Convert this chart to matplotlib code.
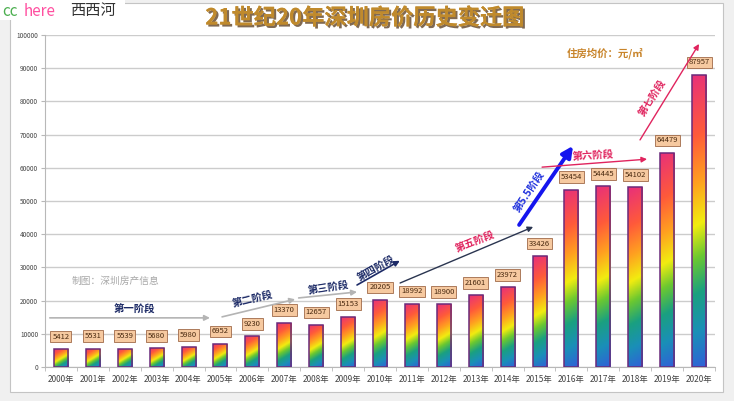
import numpy as np
import matplotlib
matplotlib.use("Agg")
import matplotlib.pyplot as plt
from matplotlib.patches import Rectangle
from matplotlib.colors import LinearSegmentedColormap
import matplotlib.patheffects as pe

plt.rcParams['font.family'] = ['Noto Sans CJK SC', 'DejaVu Sans']

years = [f"{y}年" for y in range(2000, 2021)]
prices = [5412, 5531, 5539, 5680, 5980, 6952, 9230, 13370, 12657, 15153, 20205,
          18992, 18900, 21601, 23972, 33426, 53454, 54445, 54102, 64479, 87957]
title = "21世纪20年深圳房价历史变迁图"
unit_text = "住房均价：元/㎡"
source_text = "制图：深圳房产信息"

# stage annotations: label, text pos, rotation, arrow start, arrow end, text color, arrow color, lw
stages = [
    ("第一阶段", (2.3, 17300), 0, (-0.35, 14800), (4.67, 14800), "#1c2a66", "#b4b4b4", 1.2, 8),
    ("第二阶段", (6.0, 20300), 14, (5.05, 15100), (7.34, 20400), "#1c2a66", "#b4b4b4", 1.2, 8),
    ("第三阶段", (8.37, 23800), 9, (7.45, 20800), (9.28, 22600), "#1c2a66", "#b4b4b4", 1.2, 8),
    ("第四阶段", (9.9, 29500), 30, (9.28, 24700), (10.62, 32000), "#1c2a66", "#1c2a66", 1.2, 8),
    ("第五阶段", (12.98, 37600), 22, (10.63, 25300), (14.8, 42200), "#e0245e", "#2a3550", 1.0, 8),
    ("第5.5阶段", (14.68, 52600), 57, (14.36, 42800), (16.05, 66600), "#2233dd", "#1515ee", 2.8, 16),
    ("第六阶段", (16.68, 63400), 4, (15.08, 60200), (18.37, 62600), "#e0245e", "#e0245e", 1.0, 8),
    ("第七阶段", (18.56, 81000), 58, (18.15, 68400), (20.0, 97300), "#e0245e", "#e0245e", 1.0, 8),
]

W, H = 734, 401
fig = plt.figure(figsize=(W / 100, H / 100), dpi=100, facecolor='#f0f0f0')
fig.patches.append(Rectangle((10 / W, 1 - 392 / H), (723 - 10) / W, (392 - 3) / H,
                             transform=fig.transFigure, fc='white', ec='#c4c4c4', lw=0.8, zorder=-10))
fig.patches.append(Rectangle((0, 1 - 20 / H), 125 / W, 20 / H,
                             transform=fig.transFigure, fc='white', ec='none', zorder=-9))

# watermark
fig.text(2 / W, 1 - 11 / H, "cc", color='#4caf50', fontsize=11, va='center', ha='left')
fig.text(24 / W, 1 - 11 / H, "here", color='#ff4fa0', fontsize=11, va='center', ha='left')
fig.text(70 / W, 1 - 11 / H, "西西河", color='#333333', fontsize=11, va='center', ha='left')

ax_l, ax_r, ax_t, ax_b = 45, 715, 35, 367
ax = fig.add_axes([ax_l / W, 1 - ax_b / H, (ax_r - ax_l) / W, (ax_b - ax_t) / H])
ax.set_facecolor('none')
n = len(prices)
x = np.arange(n)
ax.set_xlim(-0.5, n - 0.5)
ax.set_ylim(0, 100000)

cmap = LinearSegmentedColormap.from_list("rb", [
    (0.0, '#3060d8'), (0.13, '#1a8fb8'), (0.26, '#1aa080'), (0.38, '#6cc830'),
    (0.49, '#f2ec10'), (0.63, '#ffa020'), (0.79, '#ff5a3a'), (1.0, '#e8307a')])

bw = 0.44
bars = ax.bar(x, prices, width=bw, facecolor='none', edgecolor='#6a2a7a', linewidth=1.1, zorder=3)
pxx = (ax_r - ax_l) / n
pxy = (ax_b - ax_t) / 100000
s = 0.6
for xi, v, b in zip(x, prices, bars):
    ny, nx = 200, 24
    Hp = v * pxy
    Wp = bw * pxx
    yy = np.linspace(0, Hp, ny)[:, None]
    xx = np.linspace(-Wp / 2, Wp / 2, nx)[None, :]
    val = yy - s * xx
    val = (val + s * Wp / 2) / (Hp + s * Wp)
    im = ax.imshow(val, extent=(xi - bw / 2, xi + bw / 2, 0, v), origin='lower',
                   aspect='auto', cmap=cmap, vmin=0, vmax=1, zorder=2, interpolation='bilinear')
    im.set_clip_path(b)
    ax.annotate(str(v), xy=(xi, v), xytext=(0, 9), textcoords='offset points',
                ha='center', va='center', fontsize=5.5, color='#4a2a10', zorder=5,
                bbox=dict(boxstyle='square,pad=0.25', fc='#f6c9a0', ec='#a06a48', lw=0.6))

ax.set_xlim(-0.5, n - 0.5)
ax.set_ylim(0, 100000)

ax.yaxis.grid(True, color='#cccccc', lw=1.0)
ax.set_axisbelow(True)
for sp in ['top', 'right']:
    ax.spines[sp].set_visible(False)
ax.spines['left'].set_color('#b8b8b8')
ax.spines['bottom'].set_color('#b8b8b8')
ax.set_yticks(np.arange(0, 100001, 10000))
ax.set_yticklabels([str(v) for v in range(0, 100001, 10000)], fontsize=4.6, color='#444444')
ax.tick_params(axis='y', length=3, color='#b8b8b8', pad=2)
ax.set_xticks(x)
ax.set_xticklabels(years, fontsize=6, color='#444444')
ax.set_xticks(np.arange(-0.5, n, 1), minor=True)
ax.tick_params(axis='x', which='major', length=0, pad=6)
ax.tick_params(axis='x', which='minor', length=3, color='#b8b8b8')

# stage arrows and texts
for lab, tpos, rot, a0, a1, tc, ac, lw, hs in stages:
    ax.annotate('', xy=a1, xytext=a0,
                arrowprops=dict(arrowstyle='-|>', color=ac, lw=lw, mutation_scale=hs,
                                shrinkA=0, shrinkB=0), zorder=6)
    ax.text(tpos[0], tpos[1], lab, rotation=rot, color=tc, fontsize=7.5, fontweight='bold',
            ha='center', va='center', rotation_mode='anchor', zorder=6)

ax.text(1.7, 26000, source_text, color='#a8a8a8', fontsize=7, ha='center', va='center')
fig.text(605 / W, 1 - 53 / H, unit_text, color='#c8842a', fontsize=7.5, fontweight='bold',
         ha='center', va='center')

fig.text(365 / W, 1 - 18 / H, title, color='#c08a2c', fontsize=16, fontweight='bold',
         ha='center', va='center',
         path_effects=[pe.withSimplePatchShadow(offset=(1.5, -1.5), shadow_rgbFace='#4a2a08', alpha=0.7),
                       pe.Normal()])

fig.savefig("out.png", dpi=100, facecolor=fig.get_facecolor())
